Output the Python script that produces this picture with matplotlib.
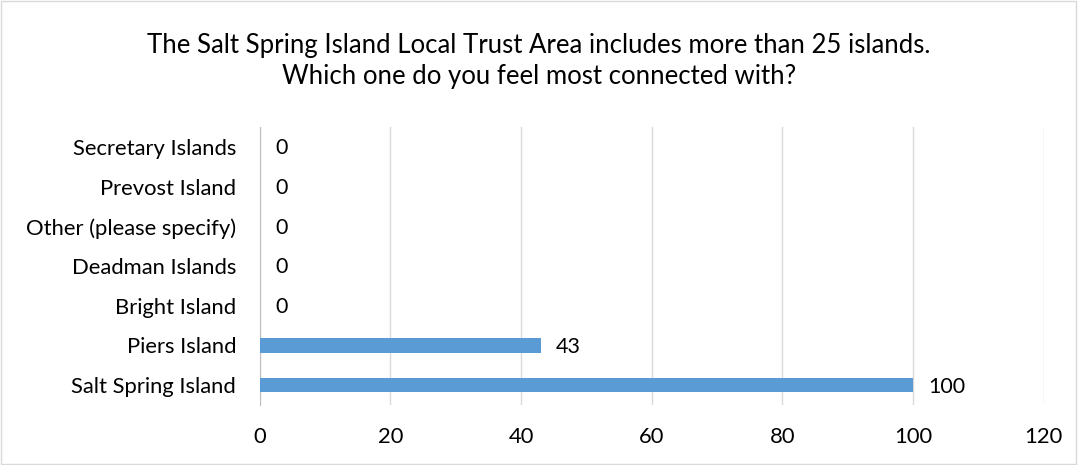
import matplotlib.pyplot as plt
from matplotlib.patches import Rectangle

# data (bottom to top, as drawn)
islands = ['Salt Spring Island', 'Piers Island', 'Bright Island', 'Deadman Islands',
           'Other (please specify)', 'Prevost Island', 'Secretary Islands']
counts = [100, 43, 0, 0, 0, 0, 0]
x_ticks = [0, 20, 40, 60, 80, 100, 120]

plt.rcParams['font.family'] = ['Lato', 'DejaVu Sans']

fig = plt.figure(figsize=(10.78, 4.65), dpi=100)
ax = fig.add_axes([0.241, 0.129, 0.727, 0.598])

ax.barh(range(len(islands)), counts, height=0.36, color='#5b9bd5', zorder=3)
for i, v in enumerate(counts):
    ax.annotate(str(v), (v, i), xytext=(11, -1), textcoords='offset points',
                va='center', ha='left', fontsize=15.5, color='#000000')

ax.set_xlim(0, 120)
ax.set_ylim(-0.5, len(islands) - 0.5)
ax.set_xticks(x_ticks)
ax.set_yticks(range(len(islands)))
ax.set_yticklabels(islands)
ax.tick_params(axis='both', length=0, labelsize=15.8, colors='#000000')
ax.tick_params(axis='x', pad=16)
ax.tick_params(axis='y', pad=17)
ax.grid(axis='x', color='#d9d9d9', linewidth=1, zorder=0)
for s in ['top', 'right', 'bottom']:
    ax.spines[s].set_visible(False)
ax.spines['left'].set_color('#bfbfbf')

fig.text(0.5, 0.869, 'The Salt Spring Island Local Trust Area includes more than 25 islands.\n'
         'Which one do you feel most connected with?', ha='center', va='center',
         fontsize=18.5, linespacing=1.3)

fig.patches.append(Rectangle((0.001, 0.002), 0.997, 0.995, transform=fig.transFigure,
                             fill=False, edgecolor='#d9d9d9', linewidth=1))

fig.savefig('out.png', dpi=100)
